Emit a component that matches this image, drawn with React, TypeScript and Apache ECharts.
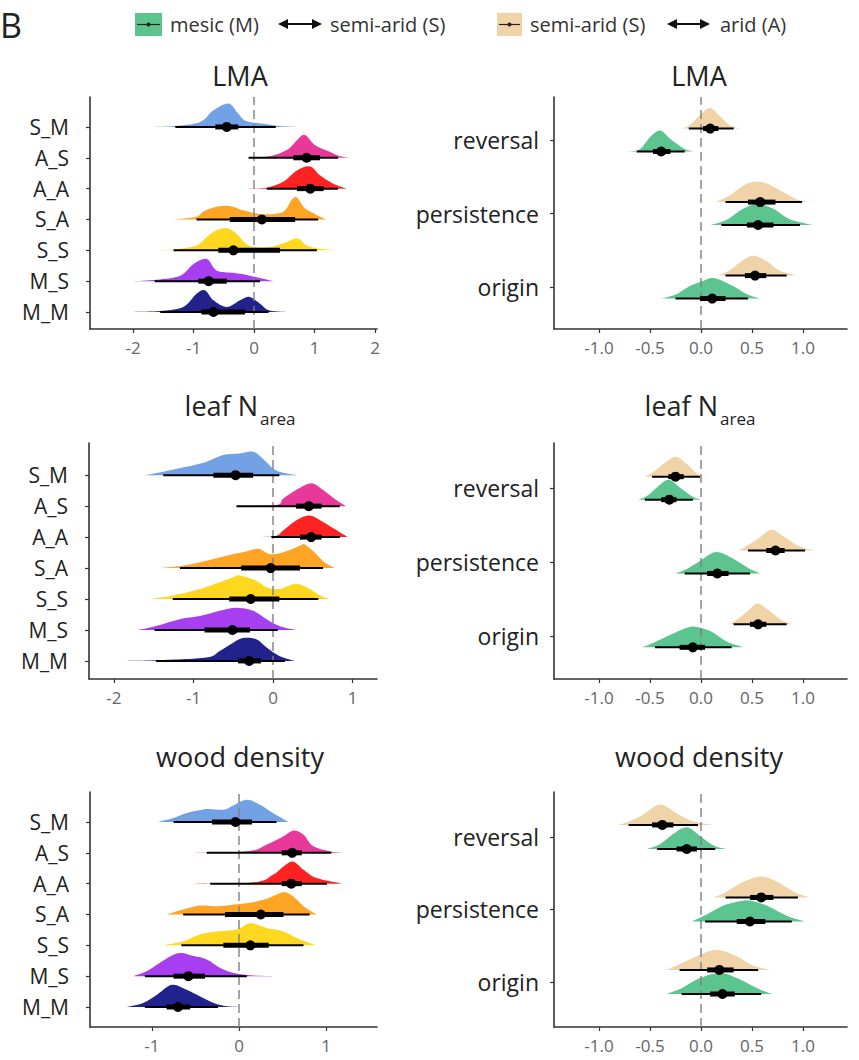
import React, { useEffect, useRef } from "react";
import * as echarts from "echarts";

// ---------- categories & colours ----------
const leftRows = ["M_M", "M_S", "S_S", "S_A", "A_A", "A_S", "S_M"];
const rightRows = ["origin", "persistence", "reversal"];
const leftColors = ["#22228C", "#A73EF0", "#FFD71E", "#FFA424", "#FF2222", "#E8399B", "#72A1E5"];
const tanColor = "#F0D4A8";
const greenColor = "#5CC48F";

const leftTicksLMA = [-2, -1, 0, 1, 2];
const leftTicksN = [-2, -1, 0, 1];
const leftTicksWD = [-1, 0, 1];
const rightTicks = [-1, -0.5, 0, 0.5, 1];

// ---------- LMA, genotype x site (rows: M_M..S_M) ----------
const lmaLeftMedian = [-0.67, -0.75, -0.34, 0.13, 0.93, 0.87, -0.45];
const lmaLeftInner = [[-0.87, -0.15], [-0.92, -0.45], [-0.59, 0.43], [-0.4, 0.68], [0.71, 1.15], [0.65, 1.09], [-0.64, -0.26]];
const lmaLeftOuter = [[-1.55, 0.24], [-1.64, 0.1], [-1.33, 1.04], [-0.95, 1.06], [0.21, 1.39], [-0.09, 1.39], [-1.3, 0.36]];
const lmaLeftDensity = [
  [[-1.99, 0], [-1.55, 0.03], [-1.17, 0.16], [-0.95, 0.59], [-0.81, 0.7], [-0.67, 0.38], [-0.45, 0.16], [-0.23, 0.38], [-0.07, 0.49], [0.1, 0.27], [0.26, 0.05], [0.6, 0]],
  [[-2.02, 0], [-1.61, 0.05], [-1.22, 0.18], [-1.0, 0.56], [-0.78, 0.72], [-0.62, 0.35], [-0.34, 0.27], [-0.07, 0.18], [0.15, 0.08], [0.32, 0]],
  [[-1.77, 0], [-1.33, 0.03], [-0.95, 0.16], [-0.78, 0.43], [-0.62, 0.65], [-0.45, 0.72], [-0.29, 0.54], [-0.09, 0.16], [0.21, 0.09], [0.48, 0.22], [0.71, 0.38], [0.87, 0.16], [1.09, 0.05], [1.39, 0]],
  [[-1.33, 0], [-0.95, 0.09], [-0.84, 0.25], [-0.62, 0.41], [-0.4, 0.44], [-0.18, 0.3], [0.15, 0.17], [0.48, 0.25], [0.62, 0.63], [0.71, 0.71], [0.84, 0.36], [1.04, 0.14], [1.2, 0]],
  [[-0.12, 0], [0.21, 0.03], [0.48, 0.22], [0.71, 0.59], [0.93, 0.72], [1.09, 0.43], [1.31, 0.16], [1.53, 0]],
  [[-0.34, 0], [0.21, 0.03], [0.54, 0.25], [0.71, 0.57], [0.84, 0.74], [1.01, 0.41], [1.26, 0.19], [1.42, 0.05], [1.59, 0]],
  [[-1.69, 0], [-1.31, 0.03], [-0.89, 0.16], [-0.67, 0.54], [-0.42, 0.76], [-0.26, 0.43], [-0.12, 0.18], [0.21, 0.09], [0.43, 0.03], [0.71, 0]],
];

// ---------- LMA, transitions (rows: origin, persistence, reversal) ----------
const lmaTanMedian = [0.53, 0.58, 0.09];
const lmaTanInner = [[0.43, 0.64], [0.46, 0.73], [0.02, 0.17]];
const lmaTanOuter = [[0.24, 0.84], [0.24, 0.99], [-0.12, 0.32]];
const lmaTanDensity = [
  [[0.17, 0], [0.28, 0.07], [0.38, 0.18], [0.51, 0.27], [0.64, 0.2], [0.77, 0.07], [0.94, 0]],
  [[0.14, 0], [0.28, 0.09], [0.42, 0.23], [0.55, 0.28], [0.68, 0.23], [0.84, 0.11], [0.97, 0.02], [1.12, 0]],
  [[-0.19, 0], [-0.11, 0.045], [-0.01, 0.18], [0.09, 0.28], [0.19, 0.16], [0.28, 0.045], [0.38, 0]],
];
const lmaGreenMedian = [0.11, 0.56, -0.39];
const lmaGreenInner = [[-0.01, 0.24], [0.45, 0.71], [-0.47, -0.3]];
const lmaGreenOuter = [[-0.25, 0.46], [0.2, 0.97], [-0.63, -0.16]];
const lmaGreenDensity = [
  [[-0.39, 0], [-0.24, 0.06], [-0.11, 0.17], [0.02, 0.24], [0.12, 0.28], [0.28, 0.195], [0.45, 0.06], [0.58, 0]],
  [[0.09, 0], [0.25, 0.07], [0.38, 0.195], [0.51, 0.28], [0.58, 0.29], [0.71, 0.22], [0.87, 0.08], [1.1, 0]],
  [[-0.71, 0], [-0.6, 0.03], [-0.5, 0.195], [-0.4, 0.285], [-0.3, 0.17], [-0.17, 0.04], [-0.08, 0]],
];

// ---------- leaf N area, genotype x site ----------
const nLeftMedian = [-0.3, -0.51, -0.28, -0.03, 0.48, 0.45, -0.47];
const nLeftInner = [[-0.44, -0.15], [-0.86, -0.29], [-0.55, 0.08], [-0.4, 0.34], [0.34, 0.61], [0.29, 0.61], [-0.75, -0.25]];
const nLeftOuter = [[-1.47, 0.15], [-1.49, 0.06], [-1.26, 0.57], [-1.17, 0.63], [-0.02, 0.84], [-0.46, 0.84], [-1.38, 0.08]];
const nLeftDensity = [
  [[-1.84, 0], [-1.47, 0.02], [-0.84, 0.11], [-0.67, 0.32], [-0.5, 0.59], [-0.38, 0.74], [-0.21, 0.7], [-0.08, 0.43], [0.08, 0.16], [0.27, 0]],
  [[-1.7, 0], [-1.47, 0.13], [-1.17, 0.35], [-0.92, 0.45], [-0.67, 0.62], [-0.46, 0.72], [-0.25, 0.62], [-0.08, 0.35], [0.08, 0.13], [0.29, 0]],
  [[-1.53, 0], [-1.26, 0.11], [-0.92, 0.32], [-0.67, 0.54], [-0.5, 0.7], [-0.42, 0.76], [-0.21, 0.59], [-0.08, 0.38], [0.08, 0.32], [0.29, 0.49], [0.46, 0.32], [0.59, 0.11], [0.71, 0]],
  [[-1.4, 0], [-1.13, 0.08], [-0.84, 0.24], [-0.59, 0.4], [-0.38, 0.51], [-0.19, 0.62], [-0.04, 0.45], [0.13, 0.51], [0.34, 0.72], [0.4, 0.76], [0.52, 0.51], [0.65, 0.18], [0.78, 0]],
  [[-0.5, 0], [0.0, 0.02], [0.13, 0.22], [0.29, 0.54], [0.46, 0.7], [0.63, 0.49], [0.8, 0.22], [0.94, 0]],
  [[-0.75, 0], [0.0, 0.02], [0.13, 0.25], [0.29, 0.52], [0.48, 0.74], [0.63, 0.52], [0.8, 0.19], [0.92, 0]],
  [[-1.61, 0], [-1.38, 0.11], [-1.09, 0.27], [-0.84, 0.43], [-0.63, 0.65], [-0.42, 0.7], [-0.25, 0.76], [-0.13, 0.54], [0.0, 0.22], [0.13, 0.08], [0.31, 0]],
];

// ---------- leaf N area, transitions ----------
const nTanMedian = [0.56, 0.73, -0.25];
const nTanInner = [[0.48, 0.64], [0.64, 0.82], [-0.32, -0.17]];
const nTanOuter = [[0.32, 0.84], [0.46, 1.02], [-0.48, -0.01]];
const nTanDensity = [
  [[0.28, 0], [0.35, 0.06], [0.45, 0.17], [0.55, 0.28], [0.66, 0.195], [0.81, 0.04], [0.92, 0]],
  [[0.37, 0], [0.46, 0.07], [0.58, 0.18], [0.69, 0.28], [0.81, 0.19], [0.97, 0.05], [1.12, 0]],
  [[-0.55, 0], [-0.47, 0.06], [-0.37, 0.17], [-0.25, 0.27], [-0.14, 0.17], [-0.03, 0.03], [0.06, 0]],
];
const nGreenMedian = [-0.08, 0.16, -0.31];
const nGreenInner = [[-0.21, 0.04], [0.06, 0.27], [-0.39, -0.24]];
const nGreenOuter = [[-0.45, 0.3], [-0.16, 0.48], [-0.55, -0.08]];
const nGreenDensity = [
  [[-0.58, 0], [-0.47, 0.06], [-0.3, 0.17], [-0.17, 0.25], [-0.06, 0.28], [0.09, 0.22], [0.25, 0.08], [0.42, 0]],
  [[-0.25, 0], [-0.14, 0.06], [-0.01, 0.17], [0.15, 0.29], [0.32, 0.195], [0.48, 0.06], [0.58, 0]],
  [[-0.61, 0], [-0.52, 0.06], [-0.43, 0.17], [-0.32, 0.27], [-0.21, 0.17], [-0.08, 0.04], [0.0, 0]],
];

// ---------- wood density, genotype x site ----------
const wdLeftMedian = [-0.7, -0.58, 0.13, 0.25, 0.6, 0.61, -0.04];
const wdLeftInner = [[-0.83, -0.56], [-0.75, -0.39], [-0.18, 0.34], [-0.16, 0.51], [0.49, 0.72], [0.49, 0.72], [-0.31, 0.15]];
const wdLeftOuter = [[-1.08, -0.24], [-1.08, 0.09], [-0.66, 0.74], [-0.64, 0.81], [-0.33, 1.01], [-0.37, 1.06], [-0.75, 0.43]];
const wdLeftDensity = [
  [[-1.29, 0], [-1.1, 0.13], [-0.94, 0.4], [-0.77, 0.72], [-0.6, 0.56], [-0.45, 0.35], [-0.29, 0.13], [-0.14, 0.02], [-0.01, 0]],
  [[-1.21, 0], [-1.06, 0.16], [-0.91, 0.43], [-0.7, 0.74], [-0.52, 0.65], [-0.37, 0.54], [-0.22, 0.27], [-0.07, 0.11], [0.16, 0.02], [0.39, 0]],
  [[-0.87, 0], [-0.64, 0.13], [-0.45, 0.35], [-0.26, 0.45], [-0.03, 0.51], [0.13, 0.72], [0.32, 0.56], [0.51, 0.45], [0.66, 0.24], [0.83, 0.06], [0.88, 0]],
  [[-0.83, 0], [-0.64, 0.16], [-0.45, 0.29], [-0.26, 0.27], [-0.07, 0.32], [0.13, 0.38], [0.32, 0.51], [0.51, 0.72], [0.62, 0.59], [0.74, 0.27], [0.86, 0.05], [0.9, 0]],
  [[-0.64, 0], [0.16, 0.04], [0.39, 0.29], [0.51, 0.56], [0.62, 0.72], [0.74, 0.45], [0.89, 0.18], [1.18, 0]],
  [[-0.66, 0], [0.09, 0.05], [0.32, 0.27], [0.51, 0.54], [0.62, 0.72], [0.74, 0.59], [0.85, 0.22], [1.04, 0.05], [1.2, 0]],
  [[-0.93, 0], [-0.75, 0.13], [-0.6, 0.29], [-0.37, 0.42], [-0.18, 0.4], [-0.07, 0.53], [0.09, 0.72], [0.24, 0.56], [0.39, 0.29], [0.53, 0.06], [0.57, 0]],
];

// ---------- wood density, transitions ----------
const wdTanMedian = [0.18, 0.59, -0.38];
const wdTanInner = [[0.06, 0.32], [0.48, 0.71], [-0.48, -0.27]];
const wdTanOuter = [[-0.21, 0.56], [0.24, 0.95], [-0.71, -0.03]];
const wdTanDensity = [
  [[-0.34, 0], [-0.21, 0.08], [-0.04, 0.19], [0.15, 0.28], [0.35, 0.19], [0.51, 0.06], [0.68, 0]],
  [[0.12, 0], [0.25, 0.08], [0.42, 0.22], [0.59, 0.29], [0.74, 0.22], [0.91, 0.08], [1.07, 0]],
  [[-0.81, 0], [-0.7, 0.05], [-0.57, 0.14], [-0.4, 0.28], [-0.24, 0.16], [-0.08, 0.05], [0.12, 0]],
];
const wdGreenMedian = [0.21, 0.48, -0.14];
const wdGreenInner = [[0.09, 0.33], [0.35, 0.63], [-0.24, -0.04]];
const wdGreenOuter = [[-0.19, 0.59], [0.04, 0.89], [-0.43, 0.14]];
const wdGreenDensity = [
  [[-0.34, 0], [-0.19, 0.08], [-0.01, 0.22], [0.19, 0.29], [0.35, 0.22], [0.55, 0.08], [0.69, 0]],
  [[-0.09, 0], [0.06, 0.1], [0.22, 0.22], [0.38, 0.28], [0.48, 0.29], [0.64, 0.22], [0.84, 0.08], [1.02, 0]],
  [[-0.53, 0], [-0.4, 0.07], [-0.27, 0.21], [-0.14, 0.3], [-0.01, 0.18], [0.12, 0.05], [0.24, 0]],
];

// ---------- helpers ----------
type Row = { y: number; color: string; median: number; inner: number[]; outer: number[]; dens: number[][] };

function buildLeft(median: number[], inner: number[][], outer: number[][], dens: number[][][]): Row[] {
  return leftRows.map((_, i) => ({ y: i + 1, color: leftColors[i], median: median[i], inner: inner[i], outer: outer[i], dens: dens[i] }));
}

function buildRight(
  tm: number[], ti: number[][], to: number[][], td: number[][][],
  gm: number[], gi: number[][], go: number[][], gd: number[][][], off: number
): Row[] {
  const rows: Row[] = [];
  rightRows.forEach((_, i) => {
    rows.push({ y: i + 1 + off, color: tanColor, median: tm[i], inner: ti[i], outer: to[i], dens: td[i] });
    rows.push({ y: i + 1 - off, color: greenColor, median: gm[i], inner: gi[i], outer: go[i], dens: gd[i] });
  });
  return rows;
}

function densityPath(pts: number[][], base: number): string {
  const n = pts.length;
  const f = (v: number) => v.toFixed(2);
  let d = `M${f(pts[0][0])},${f(base)}L${f(pts[0][0])},${f(pts[0][1])}`;
  for (let i = 0; i < n - 1; i++) {
    const p0 = pts[Math.max(i - 1, 0)];
    const p1 = pts[i];
    const p2 = pts[i + 1];
    const p3 = pts[Math.min(i + 2, n - 1)];
    const c1x = p1[0] + (p2[0] - p0[0]) / 6;
    const c1y = Math.min(base, p1[1] + (p2[1] - p0[1]) / 6);
    const c2x = p2[0] - (p3[0] - p1[0]) / 6;
    const c2y = Math.min(base, p2[1] - (p3[1] - p1[1]) / 6);
    d += `C${f(c1x)},${f(c1y)},${f(c2x)},${f(c2y)},${f(p2[0])},${f(p2[1])}`;
  }
  d += `L${f(pts[n - 1][0])},${f(base)}Z`;
  return d;
}

const FONT = "'Open Sans', 'Noto Sans', sans-serif";

export default function App() {
  const ref = useRef<HTMLDivElement>(null);

  useEffect(() => {
    if (!ref.current) return;
    const chart = echarts.init(ref.current, undefined, { renderer: "svg" });

    const panels = [
      { grid: { left: 90, top: 97, width: 287, height: 232 }, x: [-2.711, 2.033], y: [0.45, 7.97], ticks: leftTicksLMA, left: true,
        rows: buildLeft(lmaLeftMedian, lmaLeftInner, lmaLeftOuter, lmaLeftDensity) },
      { grid: { left: 554, top: 97, width: 293, height: 232 }, x: [-1.441, 1.431], y: [0.43, 3.585], ticks: rightTicks, left: false,
        rows: buildRight(lmaTanMedian, lmaTanInner, lmaTanOuter, lmaTanDensity, lmaGreenMedian, lmaGreenInner, lmaGreenOuter, lmaGreenDensity, 0.156) },
      { grid: { left: 89, top: 443, width: 288, height: 236 }, x: [-2.314, 1.308], y: [0.416, 8.04], ticks: leftTicksN, left: true,
        rows: buildLeft(nLeftMedian, nLeftInner, nLeftOuter, nLeftDensity) },
      { grid: { left: 554, top: 443, width: 293, height: 236 }, x: [-1.441, 1.431], y: [0.415, 3.612], ticks: rightTicks, left: false,
        rows: buildRight(nTanMedian, nTanInner, nTanOuter, nTanDensity, nGreenMedian, nGreenInner, nGreenOuter, nGreenDensity, 0.156) },
      { grid: { left: 90, top: 792, width: 287, height: 235 }, x: [-1.709, 1.583], y: [0.351, 7.973], ticks: leftTicksWD, left: true,
        rows: buildLeft(wdLeftMedian, wdLeftInner, wdLeftOuter, wdLeftDensity) },
      { grid: { left: 554, top: 792, width: 293, height: 235 }, x: [-1.441, 1.431], y: [0.379, 3.62], ticks: rightTicks, left: false,
        rows: buildRight(wdTanMedian, wdTanInner, wdTanOuter, wdTanDensity, wdGreenMedian, wdGreenInner, wdGreenOuter, wdGreenDensity, 0.166) },
    ];

    const grids: any[] = [];
    const xAxes: any[] = [];
    const yAxes: any[] = [];
    const series: any[] = [];

    panels.forEach((p, k) => {
      grids.push({ ...p.grid, containLabel: false });
      xAxes.push({
        type: "value", gridIndex: k, min: p.x[0], max: p.x[1], position: "bottom",
        axisLine: { show: true, onZero: false, lineStyle: { color: "#333", width: 1.6 } },
        axisTick: { show: true, length: 4, customValues: p.ticks, lineStyle: { color: "#333", width: 1.2 } },
        axisLabel: {
          customValues: p.ticks, color: "#666", fontSize: 17, fontFamily: FONT, margin: 10,
          formatter: (v: number) => (p.left ? String(Math.round(v)) : v.toFixed(1)),
        },
        splitLine: { show: false },
      });
      const cats = p.left ? leftRows : rightRows;
      const yt = cats.map((_, i) => i + 1);
      yAxes.push({
        type: "value", gridIndex: k, min: p.y[0], max: p.y[1], position: "left",
        axisLine: { show: true, onZero: false, lineStyle: { color: "#333", width: 1.6 } },
        axisTick: { show: true, length: 4, customValues: yt, lineStyle: { color: "#333", width: 1.2 } },
        axisLabel: {
          customValues: yt, color: "#222", fontSize: p.left ? 21 : 23, fontFamily: FONT, margin: p.left ? 21 : 15,
          formatter: (v: number) => cats[Math.round(v) - 1] ?? "",
        },
        splitLine: { show: false },
      });
      const rows = p.rows;
      // densities
      series.push({
        type: "custom", xAxisIndex: k, yAxisIndex: k, z: 2, silent: true,
        data: rows.map((r, i) => [r.median, r.y, i]),
        renderItem: (params: any, api: any) => {
          const r = rows[params.dataIndex];
          const base = api.coord([0, r.y])[1];
          const pts = r.dens.map(([x, h]) => api.coord([x, r.y + h]));
          return { type: "path", shape: { pathData: densityPath(pts, base) }, style: { fill: r.color } };
        },
      });
      // dashed reference line at zero
      series.push({
        type: "custom", xAxisIndex: k, yAxisIndex: k, z: 3, silent: true,
        data: [[0, p.y[0]]],
        renderItem: (_params: any, api: any) => {
          const a = api.coord([0, p.y[0]]);
          const b = api.coord([0, p.y[1]]);
          return {
            type: "line",
            shape: { x1: a[0], y1: a[1], x2: b[0], y2: b[1] },
            style: { stroke: "#7f7f7f", lineWidth: 1.4, lineDash: [9, 5] },
          };
        },
      });
      // point intervals
      series.push({
        type: "custom", xAxisIndex: k, yAxisIndex: k, z: 4, silent: true,
        data: rows.map((r, i) => [r.median, r.y, i]),
        renderItem: (params: any, api: any) => {
          const r = rows[params.dataIndex];
          const m = api.coord([r.median, r.y]);
          const o1 = api.coord([r.outer[0], r.y]);
          const o2 = api.coord([r.outer[1], r.y]);
          const i1 = api.coord([r.inner[0], r.y]);
          const i2 = api.coord([r.inner[1], r.y]);
          return {
            type: "group",
            children: [
              { type: "line", shape: { x1: o1[0], y1: o1[1], x2: o2[0], y2: o2[1] }, style: { stroke: "#000", lineWidth: 2 } },
              { type: "line", shape: { x1: i1[0], y1: i1[1], x2: i2[0], y2: i2[1] }, style: { stroke: "#000", lineWidth: 5 } },
              { type: "circle", shape: { cx: m[0], cy: m[1], r: 5 }, style: { fill: "#000" } },
            ],
          };
        },
      });
    });

    const txt = (x: number, y: number, text: string, size: number, align = "left", color = "#222") => ({
      type: "text", x, y, silent: true,
      style: { text, fontSize: size, fontFamily: FONT, fill: color, align, verticalAlign: "middle" },
    });
    const arrow = (x1: number, x2: number, y: number) => ({
      type: "group", silent: true,
      children: [
        { type: "line", shape: { x1: x1 + 6, y1: y, x2: x2 - 6, y2: y }, style: { stroke: "#111", lineWidth: 2 } },
        { type: "polygon", shape: { points: [[x1, y], [x1 + 10, y - 5], [x1 + 10, y + 5]] }, style: { fill: "#111" } },
        { type: "polygon", shape: { points: [[x2, y], [x2 - 10, y - 5], [x2 - 10, y + 5]] }, style: { fill: "#111" } },
      ],
    });
    const key = (x: number, w: number, color: string) => ({
      type: "group", silent: true,
      children: [
        { type: "rect", shape: { x, y: 13, width: w, height: 23 }, style: { fill: color } },
        { type: "line", shape: { x1: x + 2, y1: 24.5, x2: x + w - 2, y2: 24.5 }, style: { stroke: "#222", lineWidth: 1.2 } },
        { type: "circle", shape: { cx: x + w / 2, cy: 24.5, r: 2 }, style: { fill: "#222" } },
      ],
    });

    const graphic: any[] = [
      txt(0, 25, "B", 34),
      key(135, 27, greenColor),
      txt(170, 24, "mesic (M)", 20, "left", "#333"),
      arrow(278, 322, 24),
      txt(330, 24, "semi-arid (S)", 20, "left", "#333"),
      key(497, 25, tanColor),
      txt(530, 24, "semi-arid (S)", 20, "left", "#333"),
      arrow(667, 710, 24),
      txt(720, 24, "arid (A)", 20, "left", "#333"),
      txt(240, 75, "LMA", 27, "center"),
      txt(699, 75, "LMA", 27, "center"),
      txt(258, 405, "leaf N", 27, "right"),
      txt(260, 418, "area", 17, "left"),
      txt(718, 405, "leaf N", 27, "right"),
      txt(720, 418, "area", 17, "left"),
      txt(240, 756, "wood density", 27, "center"),
      txt(699, 756, "wood density", 27, "center"),
    ];

    chart.setOption({
      animation: false,
      backgroundColor: "#ffffff",
      grid: grids,
      xAxis: xAxes,
      yAxis: yAxes,
      series,
      graphic,
    });

    return () => chart.dispose();
  }, []);

  return (
    <div
      ref={ref}
      style={{ position: "fixed", left: 0, top: 0, width: 859, height: 1060, background: "#fff" }}
    />
  );
}
